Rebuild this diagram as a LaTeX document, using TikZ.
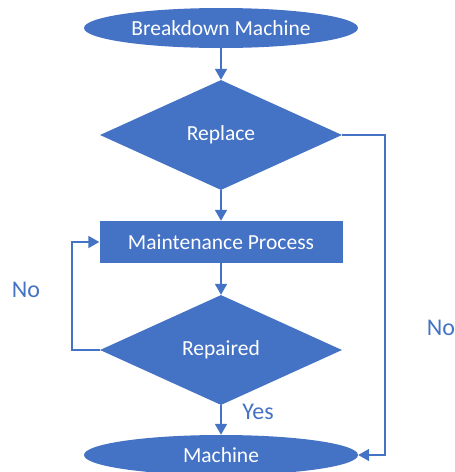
\documentclass[tikz,border=0pt]{standalone}
\usepackage{fontspec}
\setmainfont{Carlito}
\usetikzlibrary{positioning,shapes.geometric,arrows.meta}
\definecolor{flowblue}{HTML}{4472C4}

\begin{document}
\begin{tikzpicture}[x=1pt,y=1pt,on grid,
  every node/.style={font=\fontsize{21.5}{25}\selectfont},
  term/.style={ellipse,fill=flowblue,text=white,inner sep=0pt,
    minimum width=274pt,minimum height=40pt},
  decide/.style={diamond,fill=flowblue,text=white,inner sep=0pt,
    minimum width=242pt,minimum height=110pt},
  proc/.style={rectangle,fill=flowblue,text=white,inner sep=0pt,
    minimum width=243pt,minimum height=42pt},
  lbl/.style={text=flowblue,font=\fontsize{24}{28}\selectfont},
  link/.style={draw=flowblue,line width=1.8pt,
    -{Triangle[length=11pt,width=12pt]}}]
  \useasboundingbox (0,0) rectangle (455,-472);

  \node[term] (start) at (221,-28) {Breakdown Machine};
  \node[decide,below=107pt of start] (replace) {Replace};
  \node[proc,below=107pt of replace] (maint) {Maintenance Process};
  \node[decide,below=108pt of maint] (repaired) {Repaired};
  \node[term,below=105pt of repaired] (machine) {Machine};

  \coordinate (rtop) at (385,-135);
  \coordinate (lside) at (72,-350);

  \draw[link] (start) -- (replace);
  \draw[link] (replace) -- (maint);
  \draw[link] (maint) -- (repaired);
  \draw[link] (repaired) -- (machine);
  \draw[link] (replace.east) -- (rtop) |- (machine.east);
  \draw[link] (repaired.west) -- (lside) |- (maint.west);

  \node[lbl] (yes) at (258,-412) {Yes};
  \node[lbl] (noright) at (441,-328) {No};
  \node[lbl] (noleft) at (26,-290) {No};
\end{tikzpicture}
\end{document}
